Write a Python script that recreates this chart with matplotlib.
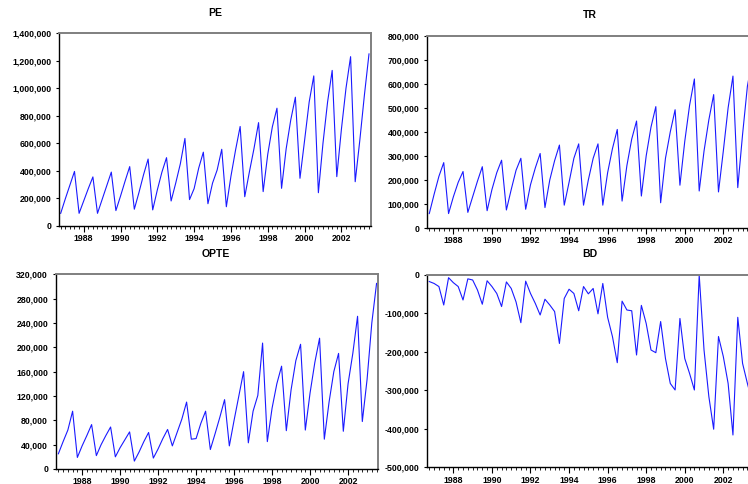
import matplotlib
matplotlib.use("Agg")
import matplotlib.pyplot as plt
from matplotlib.ticker import FuncFormatter, FixedLocator, MultipleLocator

plt.rcParams['font.family'] = ['Liberation Sans', 'DejaVu Sans']

# Quarterly observations 1986Q4 .. 2003Q3 (68 quarters), values in units
year_labels = ["1988", "1990", "1992", "1994", "1996", "1998", "2000", "2002"]
year_label_pos = [5, 13, 21, 29, 37, 45, 53, 61]   # index of Q1 of each labelled year

pe = [90, 195, 295, 395,  90, 180, 270, 355,  90, 190, 290, 390,  110, 215, 325, 430,
      120, 240, 370, 485,  115, 260, 390, 495,  180, 310, 450, 635,  190, 270, 420, 535,
      160, 310, 405, 556,  138, 360, 550, 722,  211, 390, 560, 750,  248, 520, 720, 855,
      272, 560, 770, 935,  345, 620, 900, 1090, 240, 600, 900, 1130, 357, 700, 1000, 1230,
      320, 620, 950, 1250]
tr = [60, 140, 215, 272,  60, 130, 190, 235,  65, 130, 195, 255,  72, 160, 230, 282,
      75, 160, 240, 290,  78, 180, 250, 310,  85, 200, 280, 345,  95, 190, 290, 350,
      95, 200, 290, 350,  95, 230, 330, 410,  112, 260, 370, 445,  133, 300, 420, 505,
      105, 290, 400, 492,  178, 360, 510, 620,  154, 320, 450, 555,  150, 320, 500, 632,
      168, 390, 590, 700]
opte = [25, 45, 64, 95,  19, 38, 55, 73,  22, 40, 55, 69,  20, 35, 48, 61,
        13, 28, 45, 60,  18, 33, 50, 65,  38, 60, 82, 110,  49, 50, 75, 95,
        32, 58, 85, 114,  38, 80, 120, 160,  43, 95, 121, 207,  45, 100, 140, 169,
        63, 130, 178, 205,  64, 125, 175, 215,  49, 110, 160, 190,  62, 140, 190, 251,
        78, 147, 240, 305]
bd = [-17, -22, -30, -78,  -7, -20, -30, -65,  -10, -13, -39, -76,  -15, -30, -48, -82,
      -18, -35, -70, -124,  -16, -48, -74, -104,  -63, -78, -95, -178,  -61, -37, -48, -93,
      -30, -49, -35, -101,  -22, -110, -160, -228,  -68, -91, -93, -208,  -79, -126, -195, -202,
      -121, -217, -282, -299,  -113, -217, -256, -299,  0, -195, -316, -401,  -160, -212, -282, -416,
      -110, -230, -282, -330]

pe = [v * 1000 for v in pe]
tr = [v * 1000 for v in tr]
opte = [v * 1000 for v in opte]
bd = [v * 1000 for v in bd]

W, H = 748, 484
fig = plt.figure(figsize=(W / 100, H / 100), dpi=100)

LINE = '#1a1aff'
fmt = FuncFormatter(lambda v, p: f"{v:,.0f}")

def make_ax(left, top, right, bottom, x0, x1, series, ylo, yhi, ystep, title, tx, ty):
    ax = fig.add_axes([left / W, 1 - bottom / H, (right - left) / W, (bottom - top) / H])
    n = len(series)
    ax.plot(range(n), series, color=LINE, lw=0.8, clip_on=True)
    ax.set_xlim(x0, x1)
    ax.set_ylim(ylo, yhi)
    ax.yaxis.set_major_locator(MultipleLocator(ystep))
    ax.yaxis.set_major_formatter(fmt)
    ax.xaxis.set_major_locator(FixedLocator(year_label_pos))
    ax.set_xticklabels(year_labels)
    ax.xaxis.set_minor_locator(FixedLocator(list(range(n))))
    ax.tick_params(axis='x', which='major', direction='out', length=4, width=0.8,
                   pad=2, labelsize=6.3)
    ax.tick_params(axis='x', which='minor', direction='out', length=2.2, width=0.6)
    ax.tick_params(axis='y', which='major', direction='out', length=2.5, width=0.8,
                   pad=3, labelsize=6.3)
    for lab in ax.get_xticklabels() + ax.get_yticklabels():
        lab.set_fontweight('bold')
    for s in ('left', 'bottom'):
        ax.spines[s].set_color('black')
        ax.spines[s].set_linewidth(1.0)
    for s in ('top', 'right'):
        ax.spines[s].set_color('#7f7f7f')
        ax.spines[s].set_linewidth(1.4)
    fig.text(tx / W, 1 - ty / H, title, ha='center', va='center',
             fontsize=7.5, fontweight='bold')
    return ax

# PE (top-left)
make_ax(59.3, 33.3, 370.7, 225.7, -0.3, 67.37, pe, 0, 1400000, 200000, "PE", 215, 13)
# TR (top-right, cropped at the image edge)
make_ax(427.3, 35.7, 754.3, 228.0, -0.41, 67.43, tr, 0, 800000, 100000, "TR", 590, 15)
# OPTE (bottom-left)
make_ax(55.7, 274.3, 377.7, 469.0, -0.56, 67.24, opte, 0, 320000, 40000, "OPTE", 216, 254)
# BD (bottom-right, cropped at the image edge)
make_ax(427.3, 275.0, 754.3, 467.3, -0.41, 67.43, bd, -500000, 0, 100000, "BD", 590, 254)

fig.savefig("out.png", dpi=100)
